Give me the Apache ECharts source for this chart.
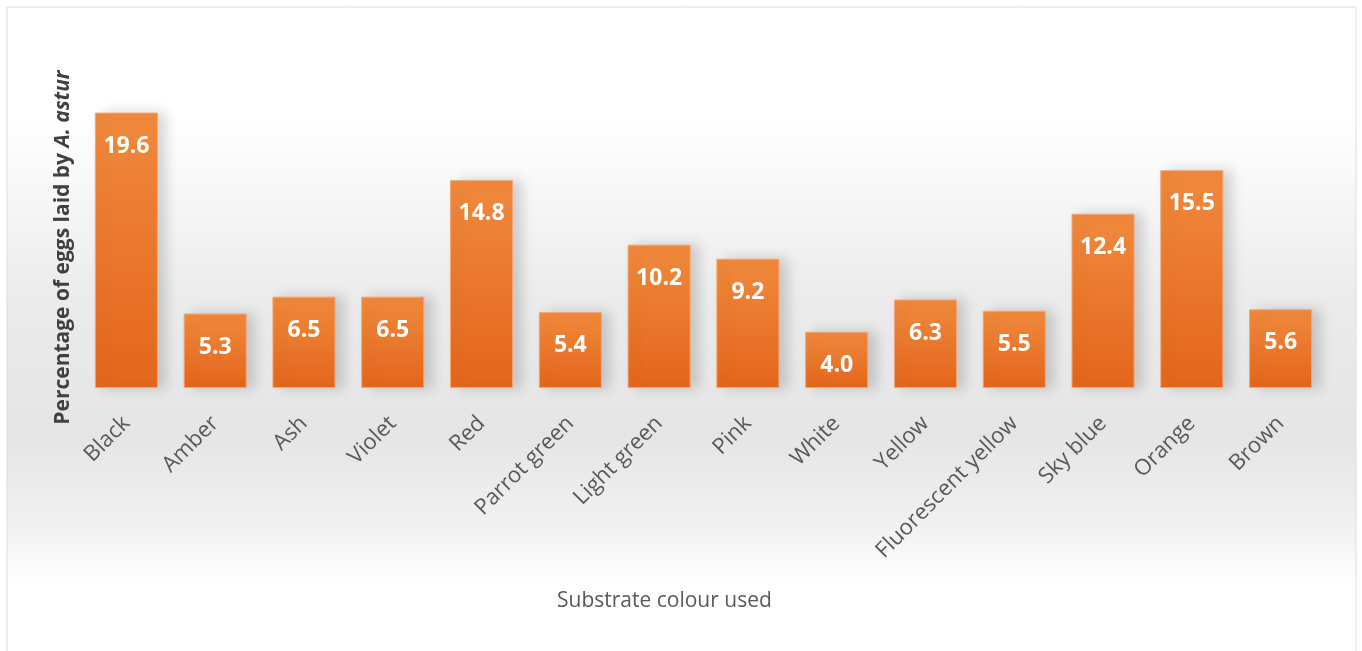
<!DOCTYPE html>
<html>
<head>
<meta charset="utf-8">
<script src="https://cdn.jsdelivr.net/npm/echarts@6/dist/echarts.min.js"></script>
<style>
  html, body { margin: 0; padding: 0; background: #fff; }
  #chart1 { width: 1362px; height: 651px; }
</style>
</head>
<body>
<div id="chart1"></div>
<script>
  // 数据
  var colours = ['Black', 'Amber', 'Ash', 'Violet', 'Red', 'Parrot green', 'Light green',
                 'Pink', 'White', 'Yellow', 'Fluorescent yellow', 'Sky blue', 'Orange', 'Brown'];
  var eggs = [19.6, 5.3, 6.5, 6.5, 14.8, 5.4, 10.2, 9.2, 4.0, 6.3, 5.5, 12.4, 15.5, 5.6];

  var font = "'Open Sans', 'DejaVu Sans', sans-serif";
  var myChart = echarts.init(document.getElementById('chart1'));

  var option = {
    backgroundColor: '#ffffff',
    animation: false,
    graphic: [
      {
        type: 'rect',
        z: -10,
        shape: { x: 7, y: 7, width: 1349, height: 650 },
        style: {
          stroke: '#dcdcdc',
          lineWidth: 1,
          fill: {
            type: 'linear', x: 0, y: 0, x2: 0, y2: 1,
            colorStops: [
              { offset: 0, color: '#ffffff' },
              { offset: 0.17, color: '#ffffff' },
              { offset: 0.45, color: '#ebebeb' },
              { offset: 0.66, color: '#e5e5e5' },
              { offset: 0.8, color: '#f1f1f1' },
              { offset: 0.89, color: '#ffffff' },
              { offset: 1, color: '#ffffff' }
            ]
          }
        }
      },
      {
        type: 'text',
        left: 557,
        top: 591,
        style: {
          text: 'Substrate colour used',
          font: '21px ' + font,
          fill: '#595959'
        }
      }
    ],
    grid: { left: 82, right: 37, top: 107, bottom: 263 },
    xAxis: {
      type: 'category',
      data: colours,
      axisLine: { show: false },
      axisTick: { show: false },
      axisLabel: {
        interval: 0,
        rotate: 45,
        margin: 32,
        fontSize: 22,
        fontFamily: font,
        color: '#595959'
      }
    },
    yAxis: {
      type: 'value',
      min: 0,
      max: 20,
      axisLine: { show: false },
      axisTick: { show: false },
      axisLabel: { show: false },
      splitLine: { show: false },
      name: '{b|Percentage of eggs laid by }{i|A. astur}',
      nameLocation: 'middle',
      nameGap: 8,
      nameTextStyle: {
        rich: {
          b: { fontSize: 21, fontWeight: 'bold', fontFamily: font, color: '#404040' },
          i: { fontSize: 21, fontWeight: 'bold', fontStyle: 'italic', fontFamily: font, color: '#404040' }
        }
      }
    },
    series: [{
      type: 'bar',
      data: eggs,
      barCategoryGap: '29%',
      itemStyle: {
        color: {
          type: 'linear', x: 0, y: 0, x2: 0, y2: 1,
          colorStops: [
            { offset: 0, color: '#f0893c' },
            { offset: 1, color: '#e3661c' }
          ]
        },
        borderColor: '#f3a574',
        borderWidth: 1,
        shadowBlur: 12,
        shadowOffsetX: 8,
        shadowColor: 'rgba(0,0,0,0.16)'
      },
      label: {
        show: true,
        position: 'insideTop',
        distance: 22,
        formatter: function (p) { return p.value.toFixed(1); },
        fontSize: 23,
        fontWeight: 'bold',
        fontFamily: font,
        color: '#ffffff'
      }
    }]
  };

  myChart.setOption(option);
</script>
</body>
</html>
